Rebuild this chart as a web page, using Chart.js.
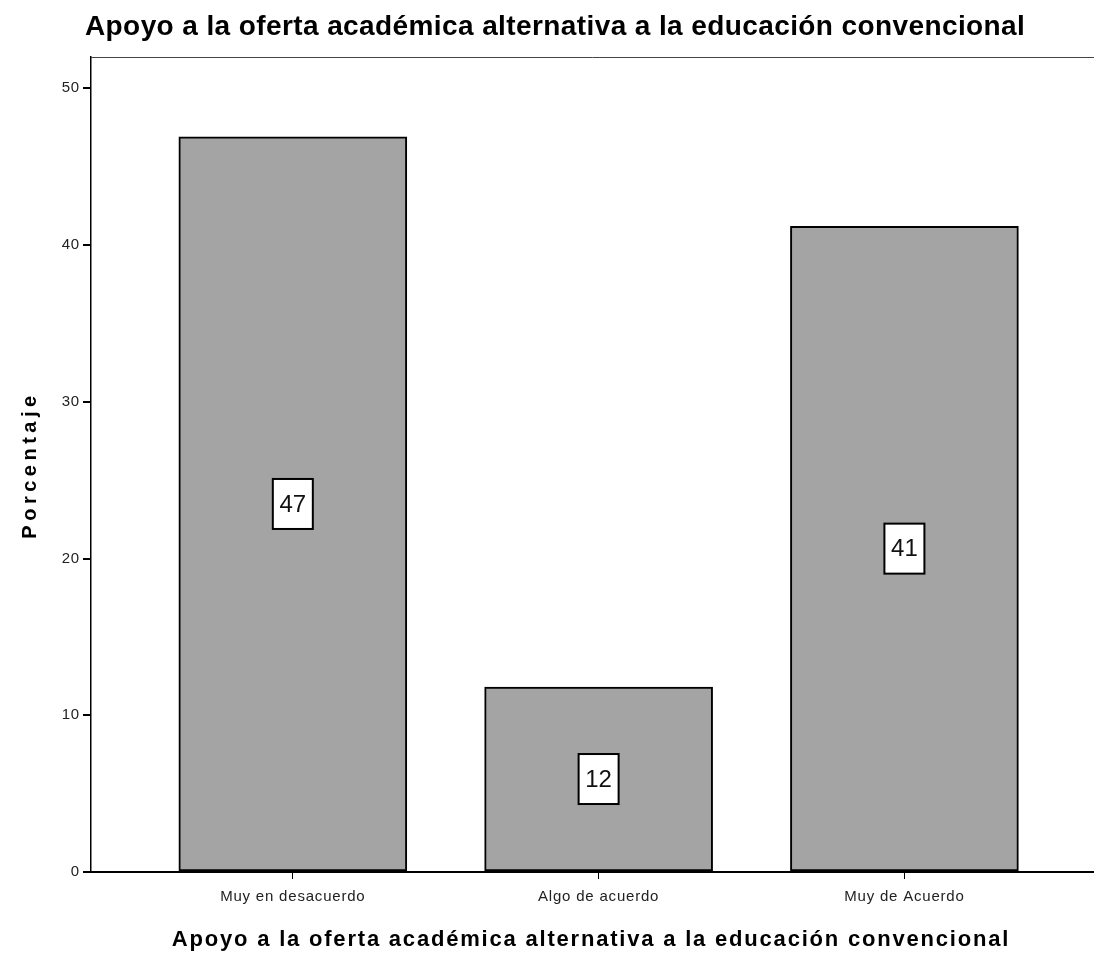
<!DOCTYPE html>
<html>
<head>
<meta charset="utf-8">
<script src="https://cdn.jsdelivr.net/npm/chart.js@4"></script>
<style>
  body { margin: 0; background: #fff; }
  canvas { display: block; }
</style>
</head>
<body>
<canvas id="barChart" width="1094" height="963"></canvas>
<script>
const chartTitle = 'Apoyo a la oferta académica alternativa a la educación convencional';
const yTitle = 'Porcentaje';
const categories = ['Muy en desacuerdo', 'Algo de acuerdo', 'Muy de Acuerdo'];
const percentages = [46.9, 11.8, 41.2];
const yTicks = [0, 10, 20, 30, 40, 50];

const FONT = '"Liberation Sans", Arial, sans-serif';

const frameAndLabels = {
    id: 'frameAndLabels',
    beforeDraw(chart) {
        chart.ctx.letterSpacing = '0.8px';
    },
    afterDatasetsDraw(chart) {
        const ctx = chart.ctx;
        const area = chart.chartArea;
        ctx.save();
        // top frame line
        ctx.strokeStyle = '#444';
        ctx.lineWidth = 1;
        ctx.beginPath();
        ctx.moveTo(area.left, area.top + 0.5);
        ctx.lineTo(area.right, area.top + 0.5);
        ctx.stroke();

        // value boxes in middle of bars
        const meta = chart.getDatasetMeta(0);
        ctx.letterSpacing = '0px';
        ctx.font = '24px ' + FONT;
        ctx.textAlign = 'center';
        ctx.textBaseline = 'middle';
        meta.data.forEach((bar, i) => {
            const cx = bar.x;
            const cy = (bar.y + bar.base) / 2;
            const w = 40, h = 50;
            ctx.fillStyle = '#fff';
            ctx.fillRect(cx - w / 2, cy - h / 2, w, h);
            ctx.strokeStyle = '#000';
            ctx.lineWidth = 2;
            ctx.strokeRect(cx - w / 2, cy - h / 2, w, h);
            ctx.fillStyle = '#111';
            ctx.fillText(Math.round(percentages[i]), cx, cy + 1);
        });

        ctx.fillStyle = '#000';
        // chart title
        ctx.font = 'bold 28px ' + FONT;
        ctx.letterSpacing = '0.4px';
        ctx.textAlign = 'left';
        ctx.textBaseline = 'alphabetic';
        ctx.fillText(chartTitle, 85, 35);

        // x axis title
        ctx.font = 'bold 22px ' + FONT;
        ctx.letterSpacing = '1.8px';
        ctx.textAlign = 'center';
        ctx.textBaseline = 'middle';
        ctx.fillText(chartTitle, 591, 940);

        // y axis title
        ctx.translate(30, 465);
        ctx.rotate(-Math.PI / 2);
        ctx.font = 'bold 20px ' + FONT;
        ctx.letterSpacing = '4.5px';
        ctx.fillText(yTitle, 0, 0);
        ctx.restore();
    }
};

new Chart(document.getElementById('barChart'), {
    type: 'bar',
    data: {
        datasets: [{
            label: yTitle,
            data: categories.map((c, i) => ({ x: i + 1, y: percentages[i] })),
            backgroundColor: '#a4a4a4',
            borderColor: '#000',
            borderWidth: 2,
            borderSkipped: false,
            barThickness: 228
        }]
    },
    options: {
        responsive: false,
        animation: false,
        layout: { padding: { top: 57, left: 0, right: 0, bottom: 0 } },
        plugins: {
            legend: { display: false },
            tooltip: { enabled: false }
        },
        scales: {
            x: {
                type: 'linear',
                offset: false,
                min: 0.34,
                max: 3.62,
                afterBuildTicks: scale => {
                    scale.ticks = categories.map((c, i) => ({ value: i + 1 }));
                },
                afterFit: scale => { scale.height = 91; },
                ticks: {
                    callback: v => categories[v - 1],
                    color: '#222',
                    font: { family: FONT, size: 15 },
                    padding: 9,
                    maxRotation: 0
                },
                grid: { offset: false, drawOnChartArea: false, tickLength: 7, color: '#000', lineWidth: 1 },
                border: { color: '#000', width: 2 }
            },
            y: {
                min: 0,
                max: 52,
                afterBuildTicks: scale => {
                    scale.ticks = yTicks.map(v => ({ value: v }));
                },
                afterFit: scale => { scale.width = 91; },
                ticks: {
                    color: '#222',
                    font: { family: FONT, size: 15 },
                    padding: 3
                },
                grid: { drawOnChartArea: false, tickLength: 8, color: '#000', lineWidth: 2 },
                border: { color: '#000', width: 1.5 }
            }
        }
    },
    plugins: [frameAndLabels]
});
</script>
</body>
</html>
